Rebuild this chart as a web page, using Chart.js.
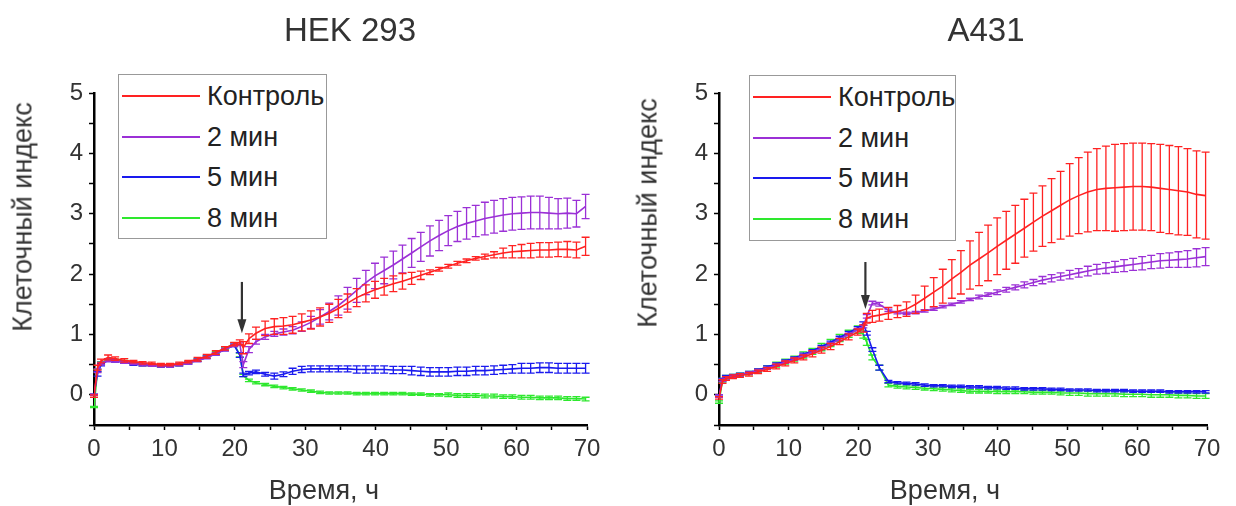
<!DOCTYPE html>
<html>
<head>
<meta charset="utf-8">
<script src="https://cdn.jsdelivr.net/npm/chart.js@4.4.1/dist/chart.umd.min.js"></script>
<style>
  body { margin: 0; background: #fff; font-family: "Liberation Sans", Arial, sans-serif; }
  .panel { position: absolute; top: 0; width: 618px; height: 506px; }
  .panel canvas { position: absolute; left: 0; top: 0; }
  .title { position: absolute; top: 11px; font-size: 33px; color: #333; transform: translateX(-50%); white-space: nowrap; }
  .ytitle { position: absolute; font-size: 27px; color: #333; white-space: nowrap; transform: translate(-50%, -50%) rotate(-90deg); }
  .xtitle { position: absolute; top: 475px; font-size: 27px; color: #333; transform: translateX(-50%); white-space: nowrap; }
  .legend { position: absolute; border: 1px solid #999; background: #fff; }
  .legend .row { position: absolute; left: 0; height: 30px; }
  .legend .swatch { position: absolute; left: 3px; width: 78px; height: 2px; top: 14px; }
  .legend .label { position: absolute; left: 88px; top: 0; font-size: 27px; line-height: 30px; color: #222; white-space: nowrap; }
</style>
</head>
<body>
<div class="panel" id="p1" style="left:0">
  <canvas id="hekChart" width="618" height="506"></canvas>
  <div class="title" style="left:350px">HEK 293</div>
  <div class="ytitle" style="left:23px; top:217px">Клеточный индекс</div>
  <div class="xtitle" style="left:324px">Время, ч</div>
  <div class="legend" id="leg1" style="left:118px; top:74px; width:207px; height:163px"></div>
</div>
<div class="panel" id="p2" style="left:618px">
  <canvas id="a431Chart" width="618" height="506"></canvas>
  <div class="title" style="left:368px">A431</div>
  <div class="ytitle" style="left:30px; top:213px">Клеточный индекс</div>
  <div class="xtitle" style="left:327px">Время, ч</div>
  <div class="legend" id="leg2" style="left:131px; top:75px; width:205px; height:164px"></div>
</div>
<script>
// time points, h
const times = [0, 0.5, 1, 2, 3, 4.3, 5.6, 6.9, 8.2, 9.5, 10.8, 12.1, 13.4, 14.7, 16, 17.3, 18.6, 19.9,
  20.7, 21.2, 22, 23,
  24.3, 25.6, 26.9, 28.2, 29.5, 30.8, 32.1, 33.4, 34.7, 36, 37.3, 38.6, 39.9, 41.2, 42.5, 43.8, 45.1, 46.4,
  47.7, 49, 50.3, 51.6, 52.9, 54.2, 55.5, 56.8, 58.1, 59.4, 60.7, 62, 63.3, 64.6, 65.9, 67.2, 68.5, 69.8];

const seriesLabels = ['Контроль', '2 мин', '5 мин', '8 мин'];
const seriesColors = ['#ff2222', '#9b30d6', '#1a1aee', '#2ee82e'];

// HEK 293
const hekCtrl = [-0.02, 0.45, 0.56, 0.62, 0.6, 0.57, 0.55, 0.53, 0.52, 0.5, 0.5, 0.52, 0.55, 0.59, 0.64, 0.7, 0.77, 0.84,
  0.87, 0.78, 0.93, 1.02,
  1.1, 1.13, 1.14, 1.16, 1.2, 1.24, 1.29, 1.35, 1.43, 1.52, 1.61, 1.68, 1.74, 1.79, 1.84, 1.88, 1.93, 1.98,
  2.03, 2.08, 2.13, 2.18, 2.22, 2.26, 2.29, 2.32, 2.35, 2.37, 2.38, 2.39, 2.4, 2.4, 2.41, 2.41, 2.4, 2.46];
const hekCtrlErr = [0.02, 0.04, 0.03, 0.04, 0.03, 0.03, 0.02, 0.02, 0.02, 0.02, 0.02, 0.02, 0.02, 0.03, 0.03, 0.03, 0.03, 0.03,
  0.04, 0.1, 0.08, 0.1,
  0.12, 0.13, 0.14, 0.14, 0.14, 0.15, 0.15, 0.15, 0.15, 0.15, 0.15, 0.14, 0.14, 0.14, 0.13, 0.13, 0.1, 0.07,
  0.04, 0.03, 0.03, 0.03, 0.03, 0.03, 0.04, 0.05, 0.08, 0.1, 0.11, 0.12, 0.12, 0.12, 0.12, 0.13, 0.13, 0.15];
const hek2 = [0.0, 0.4, 0.52, 0.57, 0.56, 0.54, 0.52, 0.5, 0.49, 0.48, 0.48, 0.5, 0.53, 0.57, 0.62, 0.68, 0.75, 0.82,
  0.84, 0.5, 0.75, 0.88,
  0.96, 1.01, 1.04, 1.07, 1.13, 1.2, 1.29, 1.38, 1.48, 1.6, 1.73, 1.86, 1.97, 2.06, 2.15, 2.25, 2.35, 2.45,
  2.55, 2.64, 2.72, 2.79, 2.84, 2.88, 2.92, 2.95, 2.98, 3.0, 3.01, 3.02, 3.02, 3.01, 3.0, 3.01, 3.0, 3.12];
const hek2Err = [0.01, 0.03, 0.02, 0.02, 0.02, 0.02, 0.02, 0.02, 0.02, 0.02, 0.02, 0.02, 0.02, 0.02, 0.02, 0.02, 0.02, 0.02,
  0.02, 0.05, 0.05, 0.04,
  0.04, 0.04, 0.05, 0.06, 0.08, 0.1, 0.12, 0.14, 0.16, 0.18, 0.2, 0.2, 0.21, 0.22, 0.23, 0.23, 0.24, 0.24,
  0.25, 0.25, 0.25, 0.25, 0.26, 0.26, 0.27, 0.27, 0.27, 0.27, 0.27, 0.27, 0.27, 0.26, 0.25, 0.25, 0.22, 0.2];
const hek5 = [0.0, 0.35, 0.5, 0.57, 0.56, 0.54, 0.51, 0.5, 0.49, 0.48, 0.48, 0.5, 0.53, 0.57, 0.62, 0.68, 0.75, 0.82,
  0.66, 0.33, 0.36, 0.38,
  0.34, 0.31, 0.34, 0.39, 0.42, 0.43, 0.43, 0.43, 0.43, 0.43, 0.42, 0.42, 0.42, 0.42, 0.41, 0.41, 0.4, 0.39,
  0.38, 0.38, 0.38, 0.39, 0.39, 0.4, 0.4, 0.41, 0.42, 0.43, 0.44, 0.44, 0.45, 0.45, 0.44, 0.44, 0.44, 0.44];
const hek5Err = [0.01, 0.04, 0.02, 0.02, 0.02, 0.02, 0.02, 0.02, 0.02, 0.02, 0.02, 0.02, 0.02, 0.02, 0.02, 0.02, 0.02, 0.02,
  0.04, 0.03, 0.03, 0.03,
  0.03, 0.05, 0.04, 0.05, 0.05, 0.05, 0.05, 0.05, 0.05, 0.05, 0.06, 0.06, 0.06, 0.06, 0.06, 0.06, 0.07, 0.07,
  0.07, 0.07, 0.07, 0.07, 0.07, 0.07, 0.07, 0.07, 0.07, 0.07, 0.08, 0.08, 0.08, 0.08, 0.08, 0.08, 0.08, 0.08];
const hek8 = [-0.2, 0.4, 0.53, 0.58, 0.57, 0.55, 0.52, 0.5, 0.49, 0.48, 0.49, 0.5, 0.54, 0.58, 0.63, 0.7, 0.77, 0.84,
  0.66, 0.32, 0.24, 0.2,
  0.17, 0.14, 0.12, 0.1, 0.08, 0.06, 0.04, 0.03, 0.03, 0.03, 0.02, 0.02, 0.02, 0.02, 0.02, 0.02, 0.01, 0.01,
  0.0, 0.0, 0.0, -0.01, -0.01, -0.01, -0.02, -0.02, -0.03, -0.03, -0.04, -0.04, -0.05, -0.05, -0.05, -0.06, -0.06, -0.07];
const hek8Err = [0.01, 0.02, 0.02, 0.02, 0.02, 0.02, 0.02, 0.02, 0.02, 0.02, 0.02, 0.02, 0.02, 0.02, 0.02, 0.02, 0.02, 0.02,
  0.03, 0.02, 0.02, 0.02,
  0.02, 0.02, 0.02, 0.02, 0.02, 0.02, 0.02, 0.02, 0.02, 0.02, 0.02, 0.02, 0.02, 0.02, 0.02, 0.02, 0.02, 0.02,
  0.02, 0.02, 0.03, 0.03, 0.03, 0.03, 0.03, 0.03, 0.03, 0.03, 0.03, 0.03, 0.03, 0.03, 0.03, 0.03, 0.03, 0.03];

// A431
const a431Ctrl = [-0.05, 0.22, 0.27, 0.3, 0.32, 0.34, 0.38, 0.42, 0.47, 0.52, 0.57, 0.62, 0.68, 0.74, 0.8, 0.88, 0.96, 1.04,
  1.1, 1.27, 1.3, 1.32,
  1.35, 1.38, 1.42, 1.5, 1.6, 1.7, 1.8, 1.92, 2.03, 2.15, 2.25, 2.35, 2.46, 2.56, 2.66, 2.76, 2.86, 2.96,
  3.05, 3.14, 3.23, 3.3, 3.36, 3.4, 3.42, 3.43, 3.44, 3.45, 3.45, 3.44, 3.42, 3.4, 3.38, 3.36, 3.32, 3.3];
const a431CtrlErr = [0.02, 0.03, 0.03, 0.03, 0.03, 0.03, 0.03, 0.03, 0.04, 0.04, 0.04, 0.04, 0.05, 0.05, 0.05, 0.05, 0.05, 0.05,
  0.06, 0.08, 0.1, 0.1,
  0.1, 0.1, 0.12, 0.15, 0.2, 0.24, 0.28, 0.32, 0.36, 0.4, 0.44, 0.46, 0.47, 0.48, 0.48, 0.48, 0.48, 0.5,
  0.53, 0.56, 0.6, 0.63, 0.66, 0.68, 0.7, 0.72, 0.72, 0.72, 0.72, 0.72, 0.73, 0.73, 0.73, 0.72, 0.72, 0.72];
const a4312 = [-0.02, 0.24, 0.28, 0.31, 0.33, 0.36, 0.4, 0.44, 0.49, 0.54, 0.59, 0.65, 0.71, 0.77, 0.84, 0.92, 1.0, 1.08,
  1.13, 1.3, 1.52, 1.5,
  1.4, 1.36, 1.35, 1.36, 1.39, 1.42, 1.46, 1.5, 1.54, 1.58, 1.62, 1.66, 1.7, 1.74, 1.78, 1.82, 1.86, 1.9,
  1.93, 1.96, 1.99, 2.02, 2.05, 2.08, 2.1, 2.12, 2.14, 2.16, 2.18, 2.2, 2.22, 2.23, 2.24, 2.25, 2.27, 2.29];
const a4312Err = [0.02, 0.02, 0.02, 0.02, 0.02, 0.02, 0.02, 0.02, 0.02, 0.02, 0.02, 0.02, 0.02, 0.02, 0.02, 0.02, 0.02, 0.02,
  0.02, 0.03, 0.03, 0.03,
  0.02, 0.02, 0.02, 0.02, 0.02, 0.02, 0.02, 0.02, 0.02, 0.02, 0.03, 0.03, 0.04, 0.04, 0.04, 0.05, 0.05, 0.06,
  0.06, 0.06, 0.07, 0.07, 0.08, 0.08, 0.09, 0.09, 0.1, 0.1, 0.11, 0.11, 0.12, 0.12, 0.13, 0.14, 0.15, 0.15];
const a4315 = [-0.02, 0.25, 0.3, 0.32, 0.34, 0.37, 0.41, 0.46, 0.51, 0.56, 0.61, 0.67, 0.73, 0.8, 0.87, 0.95, 1.03, 1.11,
  1.18, 1.02, 0.75, 0.45,
  0.22, 0.2, 0.19, 0.18, 0.16, 0.15, 0.15, 0.14, 0.14, 0.13, 0.13, 0.12, 0.12, 0.11, 0.11, 0.1, 0.1, 0.1,
  0.09, 0.09, 0.08, 0.08, 0.08, 0.07, 0.07, 0.07, 0.07, 0.06, 0.06, 0.06, 0.06, 0.05, 0.05, 0.05, 0.05, 0.05];
const a4315Err = [0.02, 0.02, 0.02, 0.02, 0.02, 0.02, 0.02, 0.02, 0.02, 0.02, 0.02, 0.02, 0.02, 0.02, 0.02, 0.02, 0.02, 0.02,
  0.03, 0.03, 0.03, 0.04,
  0.02, 0.02, 0.02, 0.02, 0.02, 0.02, 0.02, 0.02, 0.02, 0.02, 0.02, 0.02, 0.02, 0.02, 0.02, 0.02, 0.02, 0.02,
  0.02, 0.02, 0.02, 0.02, 0.02, 0.02, 0.02, 0.02, 0.02, 0.02, 0.02, 0.02, 0.02, 0.02, 0.02, 0.02, 0.02, 0.02];
const a4318 = [-0.12, 0.24, 0.29, 0.31, 0.33, 0.36, 0.4, 0.45, 0.5, 0.55, 0.6, 0.66, 0.72, 0.79, 0.86, 0.94, 1.01, 1.08,
  1.0, 0.87, 0.62, 0.45,
  0.16, 0.14, 0.13, 0.12, 0.11, 0.1, 0.09, 0.08, 0.07, 0.06, 0.06, 0.06, 0.05, 0.05, 0.05, 0.05, 0.04, 0.04,
  0.04, 0.03, 0.03, 0.03, 0.02, 0.02, 0.02, 0.02, 0.01, 0.01, 0.01, 0.0, 0.0, 0.0, -0.01, -0.01, -0.02, -0.02];
const a4318Err = [0.02, 0.03, 0.03, 0.03, 0.03, 0.03, 0.03, 0.03, 0.04, 0.04, 0.04, 0.05, 0.05, 0.06, 0.06, 0.06, 0.06, 0.06,
  0.06, 0.05, 0.04, 0.04,
  0.03, 0.03, 0.03, 0.03, 0.03, 0.03, 0.03, 0.03, 0.03, 0.03, 0.03, 0.03, 0.03, 0.03, 0.03, 0.03, 0.03, 0.03,
  0.03, 0.03, 0.04, 0.04, 0.04, 0.04, 0.04, 0.04, 0.04, 0.04, 0.04, 0.04, 0.04, 0.04, 0.04, 0.04, 0.04, 0.04];

// arrow marking the treatment time [time, from, to]
const hekArrow = [21, 1.87, 1.02];
const a431Arrow = [21, 2.2, 1.42];

const FONT = '"Liberation Sans", Arial, sans-serif';

// vertical error bars drawn right after each line
const errorBars = {
  id: 'errorBars',
  afterDatasetDraw(chart, args) {
    const ds = chart.data.datasets[args.index];
    if (!ds.errors) return;
    const ctx = chart.ctx;
    const x = chart.scales.x, y = chart.scales.y;
    ctx.save();
    ctx.strokeStyle = ds.borderColor;
    ctx.lineWidth = 1.3;
    ds.data.forEach((p, i) => {
      const e = ds.errors[i];
      const px = x.getPixelForValue(p.x);
      const top = y.getPixelForValue(p.y + e);
      const bot = y.getPixelForValue(p.y - e);
      ctx.beginPath();
      ctx.moveTo(px, top); ctx.lineTo(px, bot);
      ctx.moveTo(px - 4, top); ctx.lineTo(px + 4, top);
      ctx.moveTo(px - 4, bot); ctx.lineTo(px + 4, bot);
      ctx.stroke();
    });
    ctx.restore();
  }
};

const arrowMark = {
  id: 'arrowMark',
  afterDraw(chart, args, opts) {
    if (!opts.at) return;
    const [t, from, to] = opts.at;
    const ctx = chart.ctx;
    const px = chart.scales.x.getPixelForValue(t);
    const y0 = chart.scales.y.getPixelForValue(from);
    const y1 = chart.scales.y.getPixelForValue(to);
    ctx.save();
    ctx.strokeStyle = '#333';
    ctx.fillStyle = '#333';
    ctx.lineWidth = 2.2;
    ctx.beginPath();
    ctx.moveTo(px, y0); ctx.lineTo(px, y1 - 10);
    ctx.stroke();
    ctx.beginPath();
    ctx.moveTo(px - 4.5, y1 - 14);
    ctx.lineTo(px + 4.5, y1 - 14);
    ctx.lineTo(px, y1);
    ctx.closePath();
    ctx.fill();
    ctx.restore();
  }
};

function makeChart(canvasId, series, errs, arrow, yWidth, rightPad) {
  const datasets = series.map((vals, k) => ({
    label: seriesLabels[k],
    data: times.map((t, i) => ({ x: t, y: vals[i] })),
    errors: errs[k],
    borderColor: seriesColors[k],
    borderWidth: 1.6,
    pointRadius: 0,
    tension: 0,
    fill: false
  }));
  return new Chart(document.getElementById(canvasId), {
    type: 'line',
    data: { datasets },
    options: {
      responsive: false,
      animation: false,
      layout: { padding: { left: 0, right: rightPad, top: 93, bottom: 0 } },
      plugins: { legend: { display: false }, tooltip: { enabled: false }, arrowMark: { at: arrow } },
      scales: {
        x: {
          type: 'linear', min: 0, max: 70,
          afterFit(s) { s.height = 81; },
          ticks: { stepSize: 5, autoSkip: false, maxRotation: 0, padding: 5, color: '#333',
            font: { family: FONT, size: 24 },
            callback: v => (v % 10 === 0 ? v : '') },
          grid: { drawOnChartArea: false, tickLength: 5, tickWidth: 1.5, tickColor: '#000' },
          border: { color: '#000', width: 2.5 }
        },
        y: {
          min: -0.5, max: 5,
          afterFit(s) { s.width = yWidth; },
          ticks: { stepSize: 0.5, autoSkip: false, padding: 6, color: '#333',
            font: { family: FONT, size: 24 },
            callback: v => (Number.isInteger(v) ? v : '') },
          grid: { drawOnChartArea: false, tickLength: 5, tickWidth: 1.5, tickColor: '#000' },
          border: { color: '#000', width: 2.5 }
        }
      }
    },
    plugins: [errorBars, arrowMark]
  });
}

function makeLegend(id) {
  const box = document.getElementById(id);
  seriesLabels.forEach((lab, k) => {
    const row = document.createElement('div');
    row.className = 'row';
    row.style.top = (6 + k * 40.7) + 'px';
    row.innerHTML = `<div class="swatch" style="background:${seriesColors[k]}"></div><div class="label">${lab}</div>`;
    box.appendChild(row);
  });
}

makeChart('hekChart', [hekCtrl, hek2, hek5, hek8], [hekCtrlErr, hek2Err, hek5Err, hek8Err], hekArrow, 94, 31);
makeChart('a431Chart', [a431Ctrl, a4312, a4315, a4318], [a431CtrlErr, a4312Err, a4315Err, a4318Err], a431Arrow, 101, 29);
makeLegend('leg1');
makeLegend('leg2');
</script>
</body>
</html>
